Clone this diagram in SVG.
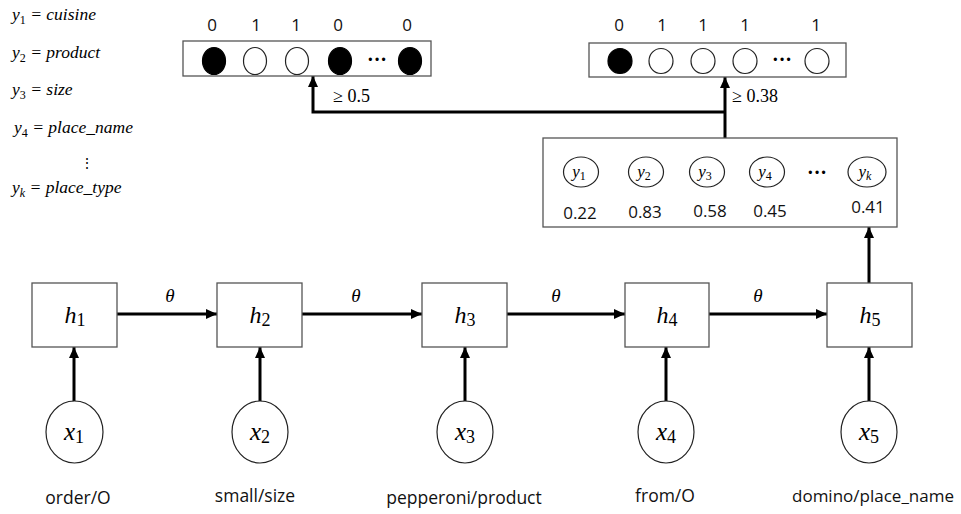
<svg xmlns="http://www.w3.org/2000/svg" width="961" height="514" viewBox="0 0 961 514">
<defs>
<marker id="ah" markerUnits="userSpaceOnUse" markerWidth="12" markerHeight="10" refX="11" refY="5" orient="auto">
<path d="M0,0 L11,5 L0,10 Z" fill="#000"/>
</marker>
</defs>
<style>
.box{fill:#fff;stroke:#555;stroke-width:1.3}
.circ{fill:#fff;stroke:#222;stroke-width:1.2}
.fill{fill:#000;stroke:#000;stroke-width:1.2}
.conn{fill:none;stroke:#000;stroke-width:3}
.math{font-family:"Liberation Serif",serif;font-style:italic}
.sub{font-style:normal}
.sans{font-family:"Open Sans","Noto Sans",sans-serif;fill:#111}
.num{font-family:"Open Sans","Noto Sans",sans-serif;font-size:17px;fill:#111;text-anchor:middle}
.dots{font-family:"Liberation Serif",serif;font-size:20px;font-weight:bold;text-anchor:middle}
</style>
<rect width="961" height="514" fill="#fff"/>

<g id="legend" class="math" font-size="17.5">
<text x="12" y="20">y<tspan class="sub" font-size="12" dy="4">1</tspan><tspan dy="-4"> = cuisine</tspan></text>
<text x="12" y="58">y<tspan class="sub" font-size="12" dy="4">2</tspan><tspan dy="-4"> = product</tspan></text>
<text x="12" y="95">y<tspan class="sub" font-size="12" dy="4">3</tspan><tspan dy="-4"> = size</tspan></text>
<text x="14" y="133">y<tspan class="sub" font-size="12" dy="4">4</tspan><tspan dy="-4"> = place_name</tspan></text>
<text x="87" y="168" class="sub" font-size="14" text-anchor="middle">⋮</text>
<text x="12" y="193">y<tspan font-size="12" dy="4">k</tspan><tspan dy="-4"> = place_type</tspan></text>
</g>

<g id="connectors">
<line class="conn" x1="117" y1="314" x2="217" y2="314" marker-end="url(#ah)"/>
<line class="conn" x1="302" y1="314" x2="422" y2="314" marker-end="url(#ah)"/>
<line class="conn" x1="507" y1="314" x2="625" y2="314" marker-end="url(#ah)"/>
<line class="conn" x1="709" y1="314" x2="827" y2="314" marker-end="url(#ah)"/>
<line class="conn" x1="74" y1="402" x2="74" y2="347" marker-end="url(#ah)"/>
<line class="conn" x1="260" y1="402" x2="260" y2="347" marker-end="url(#ah)"/>
<line class="conn" x1="465" y1="402" x2="465" y2="347" marker-end="url(#ah)"/>
<line class="conn" x1="666" y1="402" x2="666" y2="347" marker-end="url(#ah)"/>
<line class="conn" x1="869" y1="402" x2="869" y2="347" marker-end="url(#ah)"/>
<line class="conn" x1="869" y1="283" x2="869" y2="227" marker-end="url(#ah)"/>
<line class="conn" x1="725" y1="138" x2="725" y2="77" marker-end="url(#ah)"/>
<polyline class="conn" points="725,112 313,112 313,76" marker-end="url(#ah)"/>
<g class="math" font-size="19" text-anchor="middle">
<text x="170" y="302">θ</text>
<text x="356" y="302">θ</text>
<text x="556" y="302">θ</text>
<text x="758" y="302">θ</text>
</g>
<text x="333" y="102" font-family="Liberation Serif,serif" font-size="18">≥ 0.5</text>
<text x="732" y="102" font-family="Liberation Serif,serif" font-size="18">≥ 0.38</text>
</g>

<g id="out1">
<rect class="box" x="183" y="41" width="248" height="35"/>
<ellipse class="fill" cx="214" cy="61" rx="11.5" ry="13.5"/>
<ellipse class="circ" cx="255" cy="61" rx="11.5" ry="13.5"/>
<ellipse class="circ" cx="297" cy="61" rx="11.5" ry="13.5"/>
<ellipse class="fill" cx="340" cy="61" rx="11.5" ry="13.5"/>
<text class="dots" x="377" y="66">···</text>
<ellipse class="fill" cx="410" cy="61" rx="11.5" ry="13.5"/>
<text class="num" x="212" y="31">0</text>
<text class="num" x="256" y="31">1</text>
<text class="num" x="296" y="31">1</text>
<text class="num" x="338" y="31">0</text>
<text class="num" x="407" y="31">0</text>
</g>

<g id="out2">
<rect class="box" x="589" y="43" width="257" height="34"/>
<ellipse class="fill" cx="620" cy="61" rx="12" ry="12.5"/>
<ellipse class="circ" cx="661" cy="61" rx="12" ry="12.5"/>
<ellipse class="circ" cx="703" cy="61" rx="12" ry="12.5"/>
<ellipse class="circ" cx="745" cy="61" rx="12" ry="12.5"/>
<text class="dots" x="782" y="66">···</text>
<ellipse class="circ" cx="817" cy="61" rx="12" ry="12.5"/>
<text class="num" x="619" y="31">0</text>
<text class="num" x="662" y="31">1</text>
<text class="num" x="703" y="31">1</text>
<text class="num" x="745" y="31">1</text>
<text class="num" x="816" y="31">1</text>
</g>

<g id="probs">
<rect class="box" x="543" y="138" width="354" height="89"/>
<g class="math" font-size="17" text-anchor="middle">
<ellipse class="circ" cx="581" cy="172" rx="17.5" ry="15"/>
<text x="579" y="177">y<tspan class="sub" font-size="12" dy="3">1</tspan></text>
<ellipse class="circ" cx="646" cy="172" rx="17.5" ry="15"/>
<text x="644" y="177">y<tspan class="sub" font-size="12" dy="3">2</tspan></text>
<ellipse class="circ" cx="707" cy="172" rx="17.5" ry="15"/>
<text x="705" y="177">y<tspan class="sub" font-size="12" dy="3">3</tspan></text>
<ellipse class="circ" cx="767" cy="172" rx="17.5" ry="15"/>
<text x="765" y="177">y<tspan class="sub" font-size="12" dy="3">4</tspan></text>
<ellipse class="circ" cx="867" cy="172" rx="19" ry="15"/>
<text x="865" y="177">y<tspan font-size="12" dy="3">k</tspan></text>
</g>
<text class="dots" x="817" y="179">···</text>
<text class="num" x="580" y="219" font-size="17.5">0.22</text>
<text class="num" x="645" y="218" font-size="17.5">0.83</text>
<text class="num" x="710" y="217" font-size="17.5">0.58</text>
<text class="num" x="770" y="217" font-size="17.5">0.45</text>
<text class="num" x="868" y="213" font-size="17.5">0.41</text>
</g>

<g id="h1"><rect class="box" x="32" y="283" width="85" height="64"/><text class="math" x="75" y="323" font-size="24" text-anchor="middle">h<tspan class="sub" font-size="18" dy="3">1</tspan></text></g>
<g id="h2"><rect class="box" x="217" y="283" width="85" height="64"/><text class="math" x="260" y="323" font-size="24" text-anchor="middle">h<tspan class="sub" font-size="18" dy="3">2</tspan></text></g>
<g id="h3"><rect class="box" x="422" y="283" width="85" height="64"/><text class="math" x="465" y="323" font-size="24" text-anchor="middle">h<tspan class="sub" font-size="18" dy="3">3</tspan></text></g>
<g id="h4"><rect class="box" x="625" y="283" width="84" height="64"/><text class="math" x="667" y="323" font-size="24" text-anchor="middle">h<tspan class="sub" font-size="18" dy="3">4</tspan></text></g>
<g id="h5"><rect class="box" x="827" y="283" width="85" height="64"/><text class="math" x="870" y="323" font-size="24" text-anchor="middle">h<tspan class="sub" font-size="18" dy="3">5</tspan></text></g>

<g id="x1"><ellipse class="circ" cx="74.5" cy="432" rx="28.5" ry="31"/><text class="math" x="74" y="440" font-size="25" text-anchor="middle">x<tspan class="sub" font-size="18" dy="3">1</tspan></text></g>
<g id="x2"><ellipse class="circ" cx="260" cy="432" rx="28" ry="31"/><text class="math" x="260" y="440" font-size="25" text-anchor="middle">x<tspan class="sub" font-size="18" dy="3">2</tspan></text></g>
<g id="x3"><ellipse class="circ" cx="465" cy="432" rx="28" ry="31"/><text class="math" x="465" y="440" font-size="25" text-anchor="middle">x<tspan class="sub" font-size="18" dy="3">3</tspan></text></g>
<g id="x4"><ellipse class="circ" cx="666" cy="432" rx="28" ry="31"/><text class="math" x="666" y="440" font-size="25" text-anchor="middle">x<tspan class="sub" font-size="18" dy="3">4</tspan></text></g>
<g id="x5"><ellipse class="circ" cx="869" cy="432" rx="28" ry="31"/><text class="math" x="869" y="440" font-size="25" text-anchor="middle">x<tspan class="sub" font-size="18" dy="3">5</tspan></text></g>

<g id="labels" class="sans" font-size="17.5" text-anchor="middle">
<text x="78" y="504">order/O</text>
<text x="255" y="502">small/size</text>
<text x="464" y="504">pepperoni/product</text>
<text x="665" y="502">from/O</text>
<text x="873" y="502" font-size="17" textLength="162" lengthAdjust="spacingAndGlyphs">domino/place_name</text>
</g>
</svg>
